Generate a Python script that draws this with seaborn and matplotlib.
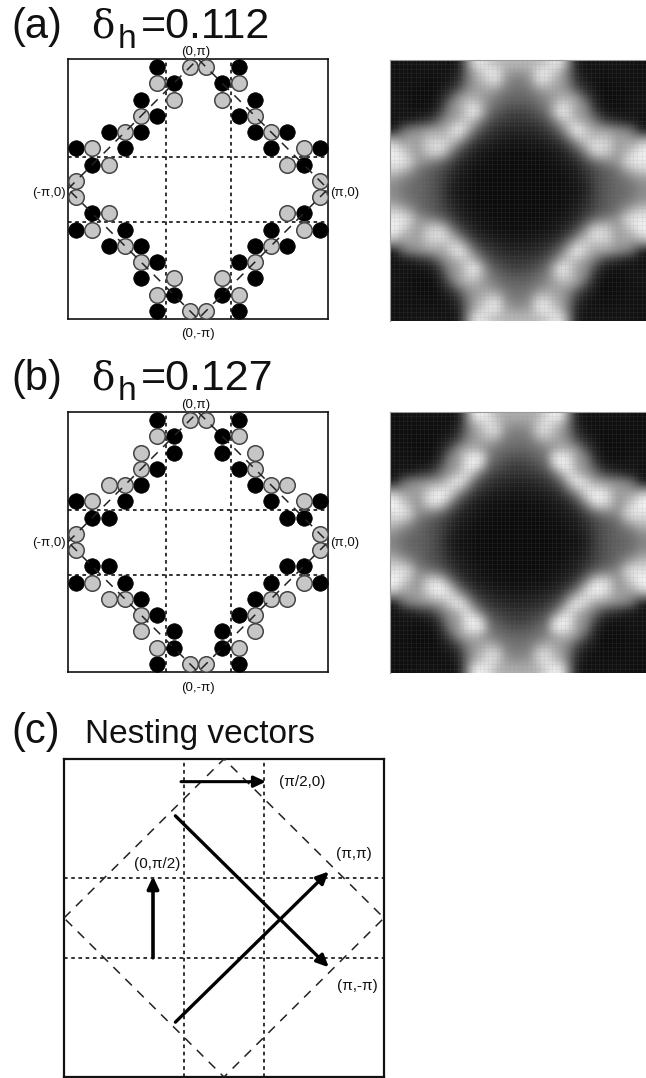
import numpy as np
import matplotlib
matplotlib.use("Agg")
import matplotlib.pyplot as plt
import pandas as pd
import seaborn as sns

sns.set_theme(style="white")
plt.rcParams['font.family'] = ['Liberation Sans', 'DejaVu Sans']

W, H = 646, 1078

# circles of the upper left quadrant, lattice units (mirrored to the 4 quadrants)
black_a = [(-2.5, 7.5), (-1.5, 6.5), (-3.5, 5.5), (-2.5, 4.5), (-5.5, 3.5), (-3.5, 3.5), (-7.5, 2.5), (-4.5, 2.5), (-6.5, 1.5)]
grey_a = [(-0.5, 7.5), (-2.5, 6.5), (-1.5, 5.5), (-3.5, 4.5), (-4.5, 3.5), (-6.5, 2.5), (-5.5, 1.5), (-7.5, 0.5)]
black_b = [(-2.5, 7.5), (-1.5, 6.5), (-1.5, 5.5), (-2.5, 4.5), (-3.5, 3.5), (-7.5, 2.5), (-4.5, 2.5), (-6.5, 1.5), (-5.5, 1.5)]
grey_b = [(-0.5, 7.5), (-2.5, 6.5), (-3.5, 5.5), (-3.5, 4.5), (-5.5, 3.5), (-4.5, 3.5), (-6.5, 2.5), (-7.5, 0.5)]

# brightness, upper left quadrant, corner to centre
map_a = [
    [.07, .07, .08, .08, .08, .08, .08, .08, .10, .45, .85, .90, .80, .75, .72, .72],
    [.07, .07, .07, .07, .07, .07, .07, .08, .12, .40, .65, .82, .92, .88, .65, .60],
    [.07, .07, .07, .07, .06, .06, .07, .10, .18, .42, .62, .72, .85, .85, .58, .50],
    [.07, .07, .07, .06, .05, .05, .09, .16, .28, .50, .60, .65, .68, .62, .50, .45],
    [.08, .07, .06, .05, .05, .06, .14, .30, .55, .65, .68, .62, .55, .48, .42, .40],
    [.08, .08, .07, .06, .06, .08, .20, .50, .62, .78, .85, .68, .50, .42, .36, .34],
    [.07, .08, .07, .07, .08, .14, .32, .55, .62, .80, .95, .70, .42, .33, .28, .25],
    [.07, .10, .12, .18, .22, .32, .50, .62, .72, .80, .70, .48, .32, .25, .22, .20],
    [.10, .35, .48, .52, .58, .62, .65, .78, .95, .78, .50, .32, .22, .18, .15, .15],
    [.55, .55, .62, .62, .72, .78, .75, .80, .78, .55, .32, .20, .16, .13, .11, .10],
    [.88, .72, .68, .62, .80, .88, .90, .72, .50, .30, .18, .13, .10, .08, .08, .07],
    [.95, .88, .72, .62, .72, .80, .75, .50, .30, .18, .12, .08, .07, .06, .06, .05],
    [.92, .92, .82, .60, .55, .50, .42, .30, .18, .12, .09, .07, .06, .05, .05, .05],
    [.82, .75, .62, .48, .40, .35, .28, .20, .13, .09, .07, .06, .05, .05, .05, .05],
    [.62, .55, .48, .42, .37, .33, .26, .17, .11, .08, .06, .05, .05, .05, .05, .05],
    [.55, .48, .43, .40, .37, .32, .24, .14, .09, .07, .06, .05, .05, .05, .05, .05],
]
map_b = [
    [.06, .06, .07, .07, .07, .07, .07, .07, .10, .45, .90, .95, .85, .72, .68, .68],
    [.06, .06, .06, .06, .06, .06, .06, .07, .12, .40, .68, .80, .90, .78, .62, .58],
    [.06, .06, .06, .06, .06, .06, .07, .09, .18, .42, .60, .72, .85, .80, .55, .50],
    [.06, .06, .06, .05, .05, .05, .09, .16, .28, .50, .60, .65, .68, .60, .48, .45],
    [.07, .06, .06, .05, .05, .06, .14, .30, .55, .65, .70, .62, .52, .45, .42, .40],
    [.07, .07, .07, .06, .06, .08, .20, .50, .60, .85, .95, .88, .48, .40, .35, .32],
    [.07, .08, .07, .07, .08, .14, .32, .55, .62, .88, .97, .78, .40, .32, .27, .24],
    [.07, .10, .12, .18, .22, .30, .48, .60, .72, .88, .72, .45, .30, .24, .22, .20],
    [.10, .35, .48, .52, .55, .60, .65, .82, .95, .78, .45, .28, .20, .17, .15, .14],
    [.55, .55, .60, .62, .72, .85, .88, .88, .72, .50, .28, .18, .15, .12, .11, .10],
    [.92, .75, .66, .60, .82, .97, .97, .75, .45, .26, .16, .12, .09, .08, .08, .07],
    [.97, .88, .72, .58, .72, .80, .72, .45, .26, .15, .11, .08, .07, .06, .06, .05],
    [.88, .92, .80, .56, .50, .46, .38, .26, .16, .11, .09, .07, .06, .05, .05, .05],
    [.78, .72, .60, .45, .38, .33, .26, .18, .12, .09, .07, .06, .05, .05, .05, .05],
    [.62, .52, .45, .40, .35, .30, .24, .15, .10, .08, .06, .05, .05, .05, .05, .05],
    [.52, .45, .40, .38, .35, .30, .22, .12, .08, .07, .06, .05, .05, .05, .05, .05],
]

# nesting vectors (start, end) and their labels
arrows = [((-3.55, -2.0), (-3.55, 2.1)), ((-2.15, 6.86), (2.1, 6.86)),
          ((-2.43, 5.14), (5.24, -2.48)), ((-2.43, -5.24), (5.24, 2.34))]
arrow_widths = [2.6, 2.2, 2.4, 2.4]
vec_labels = ["(π/2,0)", "(0,π/2)", "(π,π)", "(π,-π)"]
vec_label_px = [(302, 782), (157, 864), (354, 854), (357, 986)]

fig = plt.figure(figsize=(W / 100, H / 100), dpi=100)


def px_axes(x0, y0, x1, y1):
    return fig.add_axes([x0 / W, 1 - y1 / H, (x1 - x0) / W, (y1 - y0) / H])


def px_text(x, y, s, **kw):
    kw.setdefault("family", "Liberation Sans")
    kw.setdefault("color", "#111111")
    fig.text(x / W, 1 - y / H, s, **kw)


def mirror(pts):
    rows = []
    for x, y in pts:
        for sx in (1, -1):
            for sy in (1, -1):
                rows.append({"x": sx * x, "y": sy * y})
    return pd.DataFrame(rows)


def guides(ax, diamond_lw=1.0):
    for v in (-2, 2):
        ax.axvline(v, color="#222222", lw=1.3, dashes=(2, 2), zorder=1)
        ax.axhline(v, color="#222222", lw=1.3, dashes=(2, 2), zorder=1)
    ax.plot([-8, 0, 8, 0, -8], [0, 8, 0, -8, 0], color="#222222", lw=diamond_lw, dashes=(6, 5), zorder=5)
    ax.set_xlim(-8, 8)
    ax.set_ylim(-8, 8)
    ax.set_xticks([])
    ax.set_yticks([])
    ax.set(xlabel="", ylabel="")
    for s in ax.spines.values():
        s.set_visible(True)
        s.set_color("#111111")
        s.set_linewidth(1.2)


def fermi_panel(box, black, grey):
    ax = px_axes(*box)
    sns.scatterplot(data=mirror(black), x="x", y="y", ax=ax, s=125, color="black", edgecolor="black", linewidth=0.5, zorder=3, clip_on=False)
    sns.scatterplot(data=mirror(grey), x="x", y="y", ax=ax, s=125, color="#c6c6c6", edgecolor="#444444", linewidth=1.1, zorder=3, clip_on=False)
    guides(ax, 1.1)
    return ax


def map_panel(box, quadrant):
    ax = px_axes(*box)
    top = np.hstack([quadrant, np.fliplr(quadrant)])
    full = np.vstack([top, np.flipud(top)])
    ax.imshow(full, cmap="gray", vmin=0, vmax=1, interpolation="bicubic", aspect="auto")
    # the fine mesh of the original map
    n = full.shape[0]
    mesh = np.linspace(-0.5, n - 0.5, 61)
    ax.vlines(mesh, -0.5, n - 0.5, color="#888888", lw=0.5, alpha=0.13)
    ax.hlines(mesh, -0.5, n - 0.5, color="#888888", lw=0.5, alpha=0.13)
    ax.set_xlim(-0.5, n - 0.5)
    ax.set_ylim(n - 0.5, -0.5)
    ax.set_xticks([])
    ax.set_yticks([])
    for name, s in ax.spines.items():
        s.set_visible(name in ("left", "top"))
        s.set_color("#999999")
        s.set_linewidth(0.8)
    return ax


# (a)
fermi_panel((68, 59, 328, 319), black_a, grey_a)
map_panel((390, 60, 646, 321), np.array(map_a))
# (b)
fermi_panel((68, 412, 328, 672), black_b, grey_b)
map_panel((390, 412, 646, 673), np.array(map_b))

# corner labels of (a) and (b)
small = dict(fontsize=9.5, ha="center", va="center")
for dy, ybot in ((0, 334), (353, 688)):
    px_text(196, 52 + dy, "(0,π)", **small)
    px_text(49, 193 + dy - (3 if dy else 0), "(-π,0)", **small)
    px_text(345, 193 + dy - (3 if dy else 0), "(π,0)", **small)
    px_text(198, ybot, "(0,-π)", **small)

# titles
for lab, val, base in (("(a)", "=0.112", 38), ("(b)", "=0.127", 390)):
    px_text(11, base, lab, fontsize=30, va="baseline")
    px_text(91, base, "δ", fontsize=28, va="baseline", family="DejaVu Serif")
    px_text(118, base + 10, "h", fontsize=24, va="baseline")
    px_text(141, base, val, fontsize=31, va="baseline")
px_text(11, 743, "(c)", fontsize=30, va="baseline")
px_text(85, 743, "Nesting vectors", fontsize=24, va="baseline")

# (c)
ax_c = px_axes(64, 759, 384, 1077)
guides(ax_c, 1.1)
for s in ax_c.spines.values():
    s.set_linewidth(1.6)
for (p0, p1), lw in zip(arrows, arrow_widths):
    ax_c.annotate("", xy=p1, xytext=p0, zorder=6,
                  arrowprops=dict(arrowstyle="-|>,head_length=0.6,head_width=0.28", color="black", lw=lw, shrinkA=0, shrinkB=0))
for lab, (x, y) in zip(vec_labels, vec_label_px):
    px_text(x, y, lab, fontsize=11, ha="center", va="center")

fig.savefig("out.png", dpi=100)
